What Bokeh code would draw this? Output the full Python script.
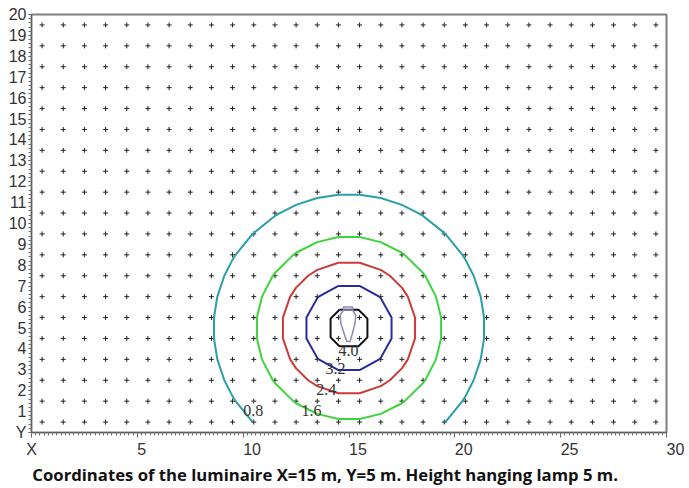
from bokeh.plotting import figure
from bokeh.models import Range1d, SingleIntervalTicker
from bokeh.embed import file_html
from bokeh.resources import INLINE

# ---- data ----
grid_x = [0.5, 1.5, 2.5, 3.5, 4.5, 5.5, 6.5, 7.5, 8.5, 9.5, 10.5, 11.5, 12.5, 13.5, 14.5,
          15.5, 16.5, 17.5, 18.5, 19.5, 20.5, 21.5, 22.5, 23.5, 24.5, 25.5, 26.5, 27.5, 28.5, 29.5]
grid_y = [0.5, 1.5, 2.5, 3.5, 4.5, 5.5, 6.5, 7.5, 8.5, 9.5, 10.5, 11.5, 12.5, 13.5, 14.5,
          15.5, 16.5, 17.5, 18.5, 19.5]

levels = ["0.8", "1.6", "2.4", "3.2", "4.0"]

x_tick_labels = {0: "X", 5: "\u20075", 10: "\u2007\u200710", 15: "\u2007\u200715",
                 20: "\u2007\u200720", 25: "\u2007\u200725", 30: "\u2007\u200730"}
y_tick_labels = {0: "Y"}

# contour 0.8 (open, cut by the bottom of the grid)
c08_x = [10.45, 9.64, 9.5, 9.11, 8.78, 8.62, 8.62, 8.78, 9.11, 9.5, 9.64, 10.45, 10.5, 11.5, 11.73,
         12.5, 13.5, 14.5, 15.5, 16.5, 17.5, 18.27, 18.5, 19.5, 19.55, 20.36, 20.5, 20.89, 21.22,
         21.38, 21.38, 21.22, 20.89, 20.5, 20.36, 19.55]
c08_y = [0.5, 1.5, 1.73, 2.5, 3.5, 4.5, 5.5, 6.5, 7.5, 8.27, 8.5, 9.5, 9.55, 10.36, 10.5,
         10.89, 11.22, 11.38, 11.38, 11.22, 10.89, 10.5, 10.36, 9.55, 9.5, 8.5, 8.27, 7.5, 6.5,
         5.5, 4.5, 3.5, 2.5, 1.73, 1.5, 0.5]
# contour 1.6
c16_x = [14.5, 15.5, 16.5, 17.5, 17.63, 18.5, 18.6, 19.11, 19.35, 19.35, 19.11, 18.6, 18.5, 17.63,
         17.5, 16.5, 15.5, 14.5, 13.5, 12.5, 12.37, 11.5, 11.4, 10.89, 10.65, 10.65, 10.89, 11.4,
         11.5, 12.37, 12.5, 13.5, 14.5]
c16_y = [9.35, 9.35, 9.11, 8.6, 8.5, 7.63, 7.5, 6.5, 5.5, 4.5, 3.5, 2.5, 2.37, 1.5,
         1.4, 0.89, 0.65, 0.65, 0.89, 1.4, 1.5, 2.37, 2.5, 3.5, 4.5, 5.5, 6.5, 7.5,
         7.63, 8.5, 8.6, 9.11, 9.35]
# contour 2.4
c24_x = [14.5, 15.5, 16.5, 16.93, 17.5, 17.78, 18.12, 18.12, 17.78, 17.5, 16.93, 16.5, 15.5, 14.5,
         13.5, 13.07, 12.5, 12.22, 11.88, 11.88, 12.22, 12.5, 13.07, 13.5, 14.5]
c24_y = [8.12, 8.12, 7.78, 7.5, 6.93, 6.5, 5.5, 4.5, 3.5, 3.07, 2.5, 2.22, 1.88, 1.88,
         2.22, 2.5, 3.07, 3.5, 4.5, 5.5, 6.5, 6.93, 7.5, 7.78, 8.12]
# contour 3.2
c32_x = [14.5, 15.5, 16.43, 16.5, 17.01, 17.01, 16.5, 16.43, 15.5, 14.5, 13.57, 13.5, 12.99, 12.99,
         13.5, 13.57, 14.5]
c32_y = [7.01, 7.01, 6.5, 6.43, 5.5, 4.5, 3.57, 3.5, 2.99, 2.99, 3.5, 3.57, 4.5, 5.5,
         6.43, 6.5, 7.01]
# contour 4.0
c40_x = [14.55, 15.45, 15.87, 15.87, 15.45, 14.55, 14.13, 14.13, 14.55]
c40_y = [5.87, 5.87, 5.45, 4.55, 4.13, 4.13, 4.55, 5.45, 5.87]

# luminaire symbol
lamp_x = [14.74, 14.74, 15.17, 15.17, 14.74, 14.58, 14.62, 14.78, 14.9, 15.05, 15.15, 15.28, 15.32, 15.17]
lamp_y = [5.86, 6.0, 6.0, 5.86, 5.86, 5.6, 5.2, 4.7, 4.35, 4.35, 4.7, 5.2, 5.6, 5.86]

# contour label positions
label_x = [10.48, 13.23, 13.93, 14.36, 14.98]
label_y = [1.04, 1.04, 2.06, 3.06, 3.93]

caption = "Coordinates of the luminaire X=15 m, Y=5 m. Height hanging lamp 5 m."

# ---- figure ----
p = figure(width=689, height=488, x_range=Range1d(0, 30), y_range=Range1d(0, 20),
           output_backend="svg", toolbar_location=None,
           min_border_left=31, min_border_right=23, min_border_top=14, min_border_bottom=52)
p.grid.visible = False
p.outline_line_color = "#808080"
p.outline_line_width = 2
p.background_fill_color = "white"

p.xaxis.ticker = SingleIntervalTicker(interval=5, num_minor_ticks=25)
p.yaxis.ticker = SingleIntervalTicker(interval=1, num_minor_ticks=5)
p.xaxis.major_label_overrides = x_tick_labels
p.yaxis.major_label_overrides = y_tick_labels
for ax in (p.xaxis[0], p.yaxis[0]):
    ax.axis_line_color = "#606060"
    ax.major_tick_line_color = "#606060"
    ax.minor_tick_line_color = "#707070"
    ax.major_tick_in = 0
    ax.minor_tick_in = 0
    ax.minor_tick_out = 3
    ax.major_label_text_font = "Liberation Sans"
    ax.major_label_text_font_size = "16px"
    ax.major_label_text_color = "#333333"
p.xaxis.major_tick_out = 5
p.xaxis.major_label_standoff = 3
p.yaxis.major_tick_out = 3
p.yaxis.major_label_standoff = 2

# caption as the x axis label (trailing figure spaces shift it left, as in the picture)
p.xaxis.axis_label = caption + "\u2007" * 5
p.xaxis.axis_label_standoff = 2
p.xaxis.axis_label_align = "center"
p.xaxis.axis_label_text_font = "Open Sans"
p.xaxis.axis_label_text_font_style = "bold"
p.xaxis.axis_label_text_font_size = "16.7px"
p.xaxis.axis_label_text_color = "#111111"

# grid points
gx = [x for y in grid_y for x in grid_x]
gy = [y for y in grid_y for x in grid_x]
p.scatter(gx, gy, marker="cross", size=5, line_color="#222222", line_width=1)

# contours
p.line(c08_x, c08_y, line_color="#2a9fa8", line_width=2)
p.line(c16_x, c16_y, line_color="#3ed43e", line_width=2)
p.line(c24_x, c24_y, line_color="#cc3b3b", line_width=2)
p.line(c32_x, c32_y, line_color="#2a2a9c", line_width=2)
p.line(c40_x, c40_y, line_color="#111111", line_width=2)
p.line(lamp_x, lamp_y, line_color="#8a8ab4", line_width=1.5)

p.text(label_x, label_y, text=levels, text_align="center", text_baseline="middle",
       text_font_size="16px", text_color="#333333", text_font="Liberation Sans")

open("out.html", "w").write(file_html(p, INLINE))
